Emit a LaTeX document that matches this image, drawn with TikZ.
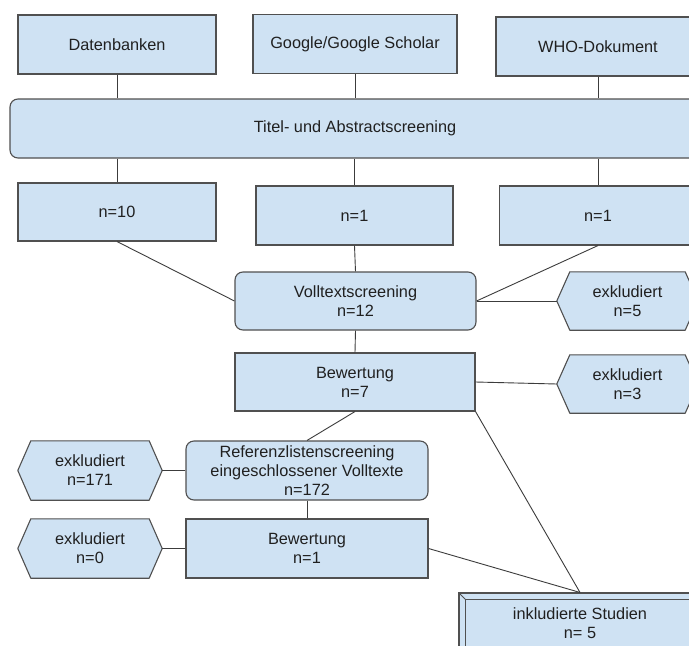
\documentclass[tikz,border=0pt]{standalone}
\usepackage{fontspec}
\setmainfont{Liberation Sans}
\usetikzlibrary{calc}
\pgfdeclarelayer{backmost}
\pgfdeclarelayer{background}
\pgfsetlayers{backmost,background,main}
\definecolor{boxfill}{HTML}{CFE2F3}
\definecolor{boxline}{HTML}{505050}
\definecolor{conn}{HTML}{3C3C3C}
\definecolor{txt}{HTML}{202020}
\newcommand{\hexshape}[1]{%
  \begin{pgfonlayer}{background}
  \filldraw[fill=boxfill,draw=boxline,line width=1.1pt,line join=round]
    (#1.west) -- ([xshift=13pt]#1.north west) -- ([xshift=-13pt]#1.north east)
    -- (#1.east) -- ([xshift=-13pt]#1.south east) -- ([xshift=13pt]#1.south west) -- cycle;
  \end{pgfonlayer}}
\begin{document}
\begin{tikzpicture}[x=1pt,y=-1pt,
  every node/.style={font=\fontsize{16.3}{19}\selectfont, text=txt, align=center, inner sep=0pt},
  sqbox/.style={draw=boxline, fill=boxfill, line width=1.1pt, rectangle, minimum width=#1, minimum height=59pt},
  rndbox/.style={draw=boxline, fill=boxfill, line width=1.1pt, rectangle, rounded corners=8pt, minimum width=#1, minimum height=59pt},
  hexbox/.style={rectangle, minimum width=141pt, minimum height=58pt},
  link/.style={draw=conn, line width=0.9pt}]
\useasboundingbox (0,0) rectangle (689,646);
\clip (0,0) rectangle (689,646);
\begin{pgfonlayer}{backmost}
\fill[white] (0,0) rectangle (689,646);
\end{pgfonlayer}

% top row
\node[sqbox=198pt] (dat) at (117,44.5) {Datenbanken};
\node[sqbox=204pt] (goo) at (355,44) {Google/Google Scholar};
\node[sqbox=204pt] (who) at (598,46.5) {WHO-Dokument};
\node[rndbox=690pt, minimum height=59pt] (titel) at (355,128.5) {Titel- und Abstractscreening};

% second row
\node[sqbox=198pt, minimum height=58pt] (n10) at (117,212) {n=10};
\node[sqbox=197pt] (n1a) at (354.5,215.5) {n=1};
\node[sqbox=197pt] (n1b) at (598,215.5) {n=1};

% middle
\node[rndbox=241pt, minimum height=58pt] (voll) at (355.5,301) {Volltextscreening\\n=12};
\node[hexbox] (ex5) at (627.5,301) {exkludiert\\n=5};
\hexshape{ex5}
\node[sqbox=240pt, minimum height=58pt] (bew1) at (355,382) {Bewertung\\n=7};
\node[hexbox] (ex3) at (627.5,384) {exkludiert\\n=3};
\hexshape{ex3}

% lower
\node[rndbox=242pt] (ref) at (307,470.5) {Referenzlistenscreening\\eingeschlossener Volltexte\\n=172};
\node[hexbox, minimum width=144pt, minimum height=59pt] (ex171) at (90,470.5) {exkludiert\\n=171};
\hexshape{ex171}
\node[sqbox=242pt] (bew2) at (307,548.5) {Bewertung\\n=1};
\node[hexbox, minimum width=144pt, minimum height=59pt] (ex0) at (90,548.5) {exkludiert\\n=0};
\hexshape{ex0}

% included studies (bevel)
\node[draw=boxline, fill=boxfill, line width=1.1pt, rectangle, minimum width=242pt, minimum height=60pt] (ink) at (580,623) {};
\draw[draw=boxline, line width=0.9pt, fill=boxfill]
  ([shift={(7pt,-7pt)}]ink.north west) rectangle ([shift={(-7pt,7pt)}]ink.south east);
\draw[draw=boxline, line width=0.8pt] (ink.north west) -- ([shift={(7pt,-7pt)}]ink.north west);
\draw[draw=boxline, line width=0.8pt] (ink.south west) -- ([shift={(7pt,7pt)}]ink.south west);
\draw[draw=boxline, line width=0.8pt] (ink.north east) -- ([shift={(-7pt,-7pt)}]ink.north east);
\node (inktxt) at (580,623) {inkludierte Studien\\n= 5};

% connectors
\draw[link] (dat.south) -- (dat.south |- titel.north);
\draw[link] (goo.south) -- (goo.south |- titel.north);
\draw[link] (who.south) -- (who.south |- titel.north);
\draw[link] (n10.north |- titel.south) -- (n10.north);
\draw[link] (n1a.north |- titel.south) -- (n1a.north);
\draw[link] (n1b.north |- titel.south) -- (n1b.north);
\draw[link] (n10.south) -- (voll.west);
\draw[link] (n1a.south) -- (voll.north);
\draw[link] (n1b.south) -- (voll.east);
\draw[link] (voll.east) -- (ex5.west);
\draw[link] (voll.south) -- (bew1.north);
\draw[link] (bew1.east) -- (ex3.west);
\draw[link] (bew1.south) -- (ref.north);
\draw[link] (bew1.south east) -- (ink.north);
\draw[link] (ref.west) -- (ex171.east);
\draw[link] (ref.south) -- (bew2.north);
\draw[link] (bew2.west) -- (ex0.east);
\draw[link] (bew2.east) -- (ink.north);
\end{tikzpicture}
\end{document}
